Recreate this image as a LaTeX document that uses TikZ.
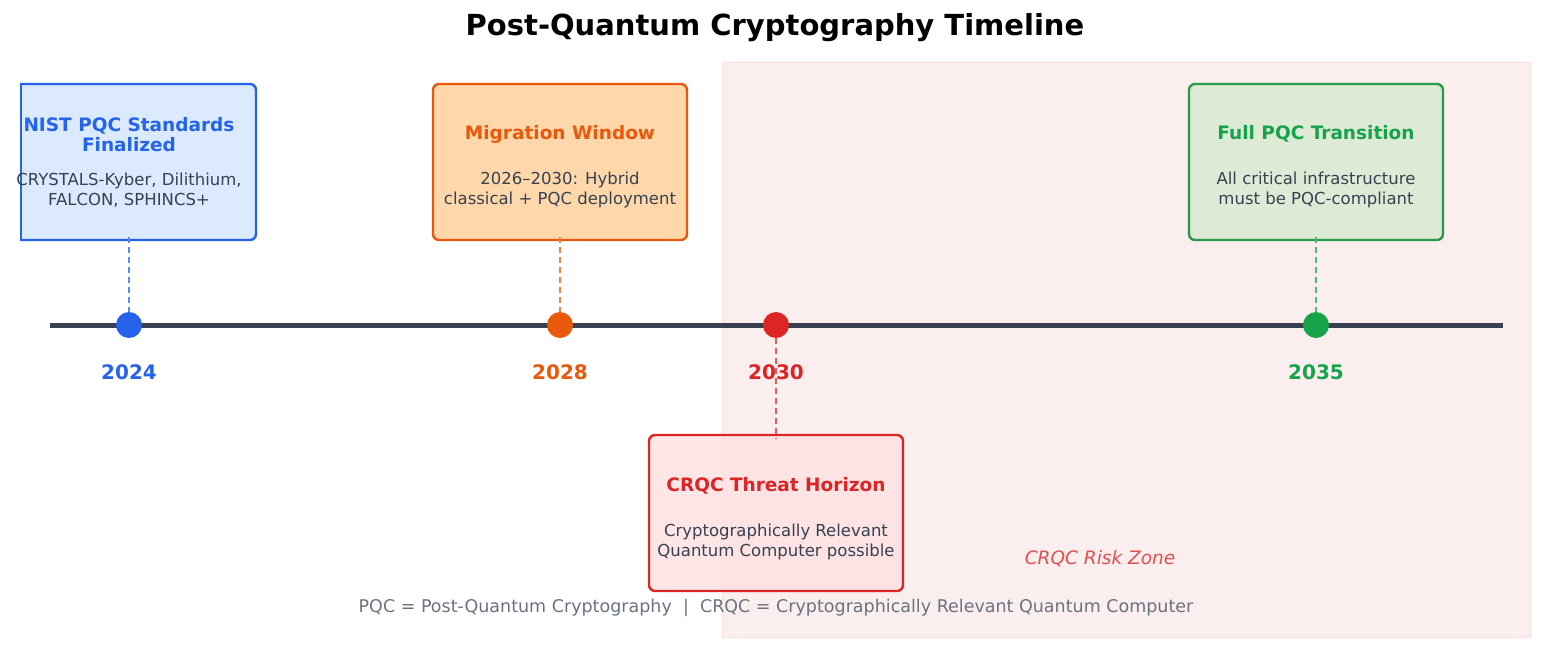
\documentclass[tikz,border=0pt]{standalone}
\usepackage{fontspec}
\setmainfont{DejaVu Sans}
\definecolor{cblue}{HTML}{2563EB}
\definecolor{corange}{HTML}{EA580C}
\definecolor{cred}{HTML}{DC2626}
\definecolor{cgreen}{HTML}{16A34A}
\definecolor{cgreenb}{HTML}{2A9A4A}
\definecolor{cline}{HTML}{374151}
\definecolor{cnote}{HTML}{6B7280}
\definecolor{zonefill}{HTML}{FBEEEE}
\definecolor{zonedraw}{HTML}{FCE0E0}
\tikzset{
  event/.style={draw, line width=2.4pt, rounded corners=6pt, minimum width=254pt, minimum height=156pt, inner sep=0pt},
  dot/.style={circle, inner sep=0pt, minimum size=26pt},
  year/.style={font=\fontsize{20}{24}\selectfont\bfseries},
  head/.style={font=\fontsize{18.5}{20}\selectfont\bfseries, align=center},
  body/.style={font=\fontsize{16.5}{20}\selectfont, text=cline, align=center},
  stem/.style={line width=2.2pt, dash pattern=on 6pt off 4pt},
}
\begin{document}
\begin{tikzpicture}[x=1pt,y=-1pt]
\useasboundingbox (0,0) rectangle (1546,654);
\fill[zonefill, draw=zonedraw] (722,62) rectangle (1530,637);
\node[font=\fontsize{29}{34}\selectfont\bfseries] (title) at (775,28) {Post-Quantum Cryptography Timeline};
\draw[cline, line width=5pt] (50,325) -- (1503,325);
\node[dot, fill=cblue] (d2024) at (129,325) {};
\node[dot, fill=corange] (d2028) at (560,325) {};
\node[dot, fill=cred] (d2030) at (776,325) {};
\node[dot, fill=cgreen] (d2035) at (1316,325) {};
\node[year, cblue] (y2024) at (129,372) {2024};
\node[year, corange] (y2028) at (560,372) {2028};
\node[year, cred] (y2030) at (776,372) {2030};
\node[year, cgreen] (y2035) at (1316,372) {2035};
% event boxes
\begin{scope}
\clip (20,0) rectangle (1546,654);
\node[event, draw=cblue, fill={rgb,255:red,219;green,234;blue,254}] (nist) at (129,162) {};
\end{scope}
\draw[cblue, line width=2.4pt] (21.2,84) -- (21.2,240);
\node[event, draw=corange, fill={rgb,255:red,254;green,215;blue,170}] (mig) at (560,162) {};
\node[event, draw=cgreenb, fill={rgb,255:red,221;green,235;blue,214}] (full) at (1316,162) {};
\node[event, draw=cred, fill={rgb,255:red,254;green,226;blue,226}, fill opacity=0.85] (crqc) at (776,513) {};
\node[head, text=cblue] (nisth) at (129,135) {NIST PQC Standards\\Finalized};
\node[body] (nistb) at (129,190) {CRYSTALS-Kyber, Dilithium,\\FALCON, SPHINCS+};
\node[head, text=corange] (migh) at (560,134) {Migration Window};
\node[body] (migb) at (560,190) {2026–2030: Hybrid\\classical + PQC deployment};
\node[head, text=cgreen] (fullh) at (1316,134) {Full PQC Transition};
\node[body] (fullb) at (1316,190) {All critical infrastructure\\must be PQC-compliant};
\node[head, text=cred] (crqch) at (776,486) {CRQC Threat Horizon};
\node[body] (crqcb) at (776,542) {Cryptographically Relevant\\Quantum Computer possible};
% stems
\draw[stem, cblue!75] (129,237) -- (d2024);
\draw[stem, corange!75] (560,237) -- (d2028);
\draw[stem, cgreen!75] (1316,237) -- (d2035);
\draw[stem, cred!75] (d2030) -- ([yshift=-5pt]crqc.north);
\node[font=\fontsize{18.5}{22}\selectfont\itshape, text={rgb,255:red,224;green,80;blue,80}] (zone) at (1100,559) {CRQC Risk Zone};
\node[font=\fontsize{17.5}{21}\selectfont, cnote] (note) at (776,608) {PQC = Post-Quantum Cryptography \ | \ CRQC = Cryptographically Relevant Quantum Computer};
\end{tikzpicture}
\end{document}
